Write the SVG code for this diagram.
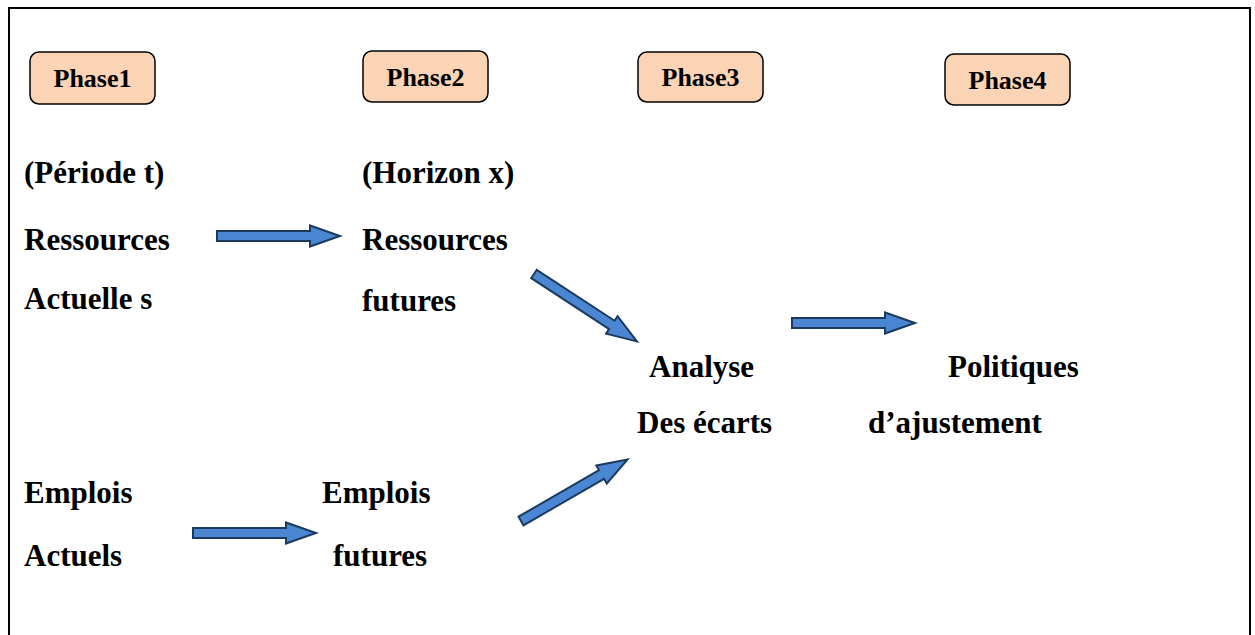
<svg xmlns="http://www.w3.org/2000/svg" width="1255" height="635" viewBox="0 0 1255 635">
<style>
.t{font-family:"Liberation Serif","Times New Roman",serif;font-weight:bold;font-size:31px;fill:#000}
.pt{font-family:"Liberation Serif","Times New Roman",serif;font-weight:bold;font-size:26px;fill:#000;text-anchor:middle}
.pb{fill:#fad4b4;stroke:#000;stroke-width:1.5}
.ar{fill:#4a86d2;stroke:#1c3a5e;stroke-width:2;stroke-linejoin:miter}
</style>
<defs>
<path id="blk" d="M0,-5 L93,-5 L93,-10.5 L123,0 L93,10.5 L93,5 L0,5 Z"/>
</defs>
<rect width="1255" height="635" fill="#fff"/>
<path d="M9,640 V8 H1250 V640" fill="none" stroke="#000" stroke-width="2"/>
<g id="phase1"><rect class="pb" x="30" y="52" width="125" height="52" rx="9"/><text class="pt" x="92.5" y="87">Phase1</text></g>
<g id="phase2"><rect class="pb" x="363" y="51" width="125" height="51" rx="9"/><text class="pt" x="425.5" y="86">Phase2</text></g>
<g id="phase3"><rect class="pb" x="638" y="52" width="125" height="50" rx="9"/><text class="pt" x="700.5" y="86">Phase3</text></g>
<g id="phase4"><rect class="pb" x="945" y="54" width="125" height="51" rx="9"/><text class="pt" x="1007.5" y="89">Phase4</text></g>
<g id="ressources-actuelles">
<text class="t" x="24" y="183">(Période t)</text>
<text class="t" x="24" y="250">Ressources</text>
<text class="t" x="24" y="309">Actuelle s</text>
</g>
<g id="ressources-futures">
<text class="t" x="362" y="183">(Horizon x)</text>
<text class="t" x="362" y="250">Ressources</text>
<text class="t" x="362" y="311">futures</text>
</g>
<g id="analyse">
<text class="t" x="649" y="377">Analyse</text>
<text class="t" x="637" y="433">Des écarts</text>
</g>
<g id="politiques">
<text class="t" x="948" y="377">Politiques</text>
<text class="t" x="868" y="433">d’ajustement</text>
</g>
<g id="emplois-actuels">
<text class="t" x="24" y="503">Emplois</text>
<text class="t" x="24" y="566">Actuels</text>
</g>
<g id="emplois-futures">
<text class="t" x="322" y="503">Emplois</text>
<text class="t" x="333" y="566">futures</text>
</g>
<g id="connectors">
<use href="#blk" class="ar" transform="translate(217,236)"/>
<use href="#blk" class="ar" transform="translate(534,274) rotate(33.2)"/>
<use href="#blk" class="ar" transform="translate(792,323)"/>
<use href="#blk" class="ar" transform="translate(193,533)"/>
<use href="#blk" class="ar" transform="translate(521,521) rotate(-30)"/>
</g>
</svg>
